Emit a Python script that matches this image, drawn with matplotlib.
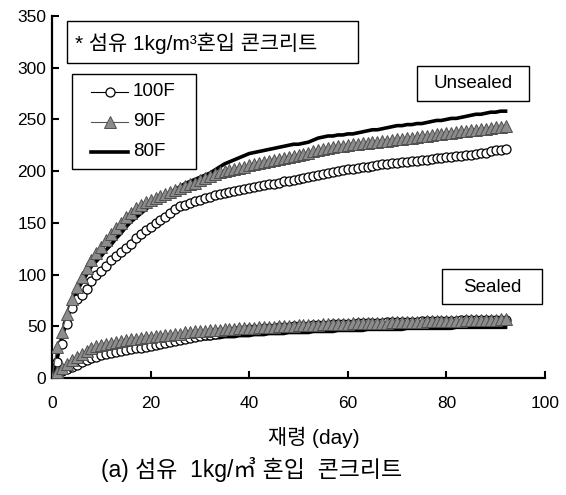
import numpy as np
import matplotlib.pyplot as plt
from matplotlib.patches import Rectangle
from matplotlib.lines import Line2D

plt.rcParams['font.family'] = ['Liberation Sans', 'Noto Sans CJK KR', 'DejaVu Sans']

days = list(range(0, 93))

# unsealed
u100 = [0, 15, 33, 52, 68, 76, 80, 86, 94, 100, 103, 108, 114, 118, 122, 126, 130, 135, 139, 143,
        146, 150, 153, 156, 160, 163, 166, 167, 169, 171, 172, 174, 175, 177, 178, 179, 180, 181, 182, 183,
        184, 185, 186, 187, 188, 188, 189, 190, 190, 191, 192, 193, 194, 195, 196, 197, 198, 199, 200, 201,
        202, 202, 203, 204, 204, 205, 206, 207, 207, 208, 208, 209, 209, 210, 210, 211, 211, 212, 213, 213,
        214, 214, 215, 215, 216, 216, 217, 218, 218, 219, 220, 220, 221]
u90 = [0, 30, 44, 62, 76, 88, 98, 106, 114, 121, 127, 133, 139, 145, 150, 156, 160, 164, 167, 170,
       172, 174, 176, 178, 180, 182, 184, 186, 188, 189, 191, 193, 195, 197, 199, 200, 201, 202, 203, 204,
       206, 207, 208, 209, 210, 211, 212, 213, 214, 215, 216, 217, 218, 219, 220, 221, 222, 223, 224, 224,
       225, 226, 226, 227, 227, 228, 228, 229, 229, 230, 231, 231, 232, 232, 233, 234, 234, 235, 236, 236,
       237, 237, 238, 239, 239, 240, 240, 241, 241, 242, 243, 243, 244]
u80 = [0, 18, 40, 58, 73, 84, 92, 100, 108, 113, 118, 124, 129, 135, 140, 146, 151, 155, 159, 163,
       167, 170, 173, 176, 179, 182, 185, 188, 190, 192, 194, 196, 198, 201, 204, 207, 209, 211, 213, 215,
       217, 218, 219, 220, 221, 222, 223, 224, 225, 226, 226, 227, 228, 230, 232, 233, 234, 234, 235, 235,
       236, 236, 237, 238, 239, 240, 240, 241, 242, 243, 244, 244, 245, 245, 246, 246, 247, 248, 249, 249,
       250, 251, 251, 252, 253, 254, 255, 255, 256, 257, 257, 258, 258]

# sealed
s100 = [0, 4, 7, 9, 11, 13, 15, 17, 19, 20, 22, 23, 24, 25, 26, 27, 28, 29, 29, 30,
        31, 32, 33, 34, 35, 36, 37, 38, 39, 40, 41, 42, 42, 43, 44, 44, 45, 45, 46, 46,
        47, 47, 47, 48, 48, 48, 49, 49, 49, 50, 50, 50, 50, 51, 51, 51, 51, 52, 52, 52,
        52, 52, 53, 53, 53, 53, 53, 53, 54, 54, 54, 54, 54, 54, 54, 55, 55, 55, 55, 55,
        55, 55, 55, 56, 56, 56, 56, 56, 56, 56, 56, 56, 56]
s90 = [0, 6, 10, 14, 17, 20, 23, 26, 29, 31, 32, 33, 34, 35, 36, 37, 38, 38, 39, 40,
       40, 41, 41, 42, 42, 43, 43, 44, 44, 45, 45, 45, 46, 46, 46, 47, 47, 47, 48, 48,
       48, 48, 49, 49, 49, 49, 50, 50, 50, 50, 51, 51, 51, 51, 51, 52, 52, 52, 52, 52,
       52, 53, 53, 53, 53, 53, 53, 53, 53, 54, 54, 54, 54, 54, 54, 54, 55, 55, 55, 55,
       55, 55, 55, 55, 56, 56, 56, 56, 56, 56, 56, 57, 57]
s80 = [0, 5, 9, 12, 15, 17, 19, 21, 22, 24, 25, 26, 27, 28, 29, 30, 31, 31, 32, 33,
       33, 34, 34, 35, 35, 35, 36, 36, 37, 37, 38, 38, 38, 39, 39, 40, 40, 40, 41, 41,
       41, 42, 42, 42, 43, 43, 43, 43, 44, 44, 44, 44, 44, 45, 45, 45, 45, 45, 46, 46,
       46, 46, 46, 46, 47, 47, 47, 47, 47, 47, 47, 47, 48, 48, 48, 48, 48, 48, 48, 48,
       48, 48, 49, 49, 49, 49, 49, 49, 49, 49, 49, 49, 49]

series_labels = ['100F', '90F', '80F']
x_ticks = [0, 20, 40, 60, 80, 100]
y_ticks = [0, 50, 100, 150, 200, 250, 300, 350]

W, H = 566, 495
fig = plt.figure(figsize=(W / 100, H / 100), dpi=100)
ax = fig.add_axes([52 / W, 1 - 378 / H, 493 / W, 362 / H])

circ = dict(color='black', lw=0.8, marker='o', ms=6.5, mfc='white', mec='black', mew=0.9)
tri = dict(color='#555555', lw=0.8, marker='^', ms=8.5, mfc='#8c8c8c', mec='#505050', mew=0.7)
thick = dict(color='black', lw=2.6)

ax.plot(days, u80, zorder=2, **thick)
ax.plot(days, s80, zorder=2, **thick)
ax.plot(days, u100, zorder=3, **circ)
ax.plot(days, s100, zorder=3, **circ)
ax.plot(days, u90, zorder=4, **tri)
ax.plot(days, s90, zorder=4, **tri)

ax.set_xlim(0, 100)
ax.set_ylim(0, 350)
ax.set_xticks(x_ticks)
ax.set_yticks(y_ticks)
for s in ['top', 'right']:
    ax.spines[s].set_visible(False)
for s in ['left', 'bottom']:
    ax.spines[s].set_linewidth(1.6)
ax.tick_params(axis='both', direction='in', length=5, width=1.5, labelsize=12.5)
ax.tick_params(axis='y', pad=4)
ax.tick_params(axis='x', pad=13)


def fx(px):
    return px / W


def fy(py):
    return 1 - py / H


def px_box(x0, y0, x1, y1):
    # rectangle in reference pixel coords (origin top left)
    fig.patches.append(Rectangle((fx(x0), fy(y1)), (x1 - x0) / W, (y1 - y0) / H,
                                 transform=fig.transFigure, fc='white', ec='black', lw=1.0, zorder=5))


# legend drawn by hand so the box matches
px_box(72, 74, 196, 169)
for row_y, style, lab in zip([92, 122, 152], [circ, tri, thick], series_labels):
    fig.add_artist(Line2D([fx(91), fx(110), fx(128)], [fy(row_y)] * 3, transform=fig.transFigure,
                          markevery=[1], zorder=6, **style))
    fig.text(fx(133), fy(row_y), lab, fontsize=13.5, ha='left', va='center', zorder=6)

px_box(67, 21, 358, 63)
fig.text(fx(75), fy(43), '* 섬유 1kg/m³혼입 콘크리트', fontsize=15, va='center', ha='left', zorder=6)
px_box(417, 66, 529, 101)
fig.text(fx(473), fy(84), 'Unsealed', fontsize=13.5, ha='center', va='center', zorder=6)
px_box(442, 269, 542, 304)
fig.text(fx(492), fy(287), 'Sealed', fontsize=13.5, ha='center', va='center', zorder=6)

fig.text(fx(314), fy(437), '재령 (day)', fontsize=15, ha='center', va='center')
fig.text(fx(252), fy(470), '(a) 섬유  1kg/㎥ 혼입  콘크리트', fontsize=16.5, ha='center', va='center')

fig.savefig('out.png', dpi=100)
